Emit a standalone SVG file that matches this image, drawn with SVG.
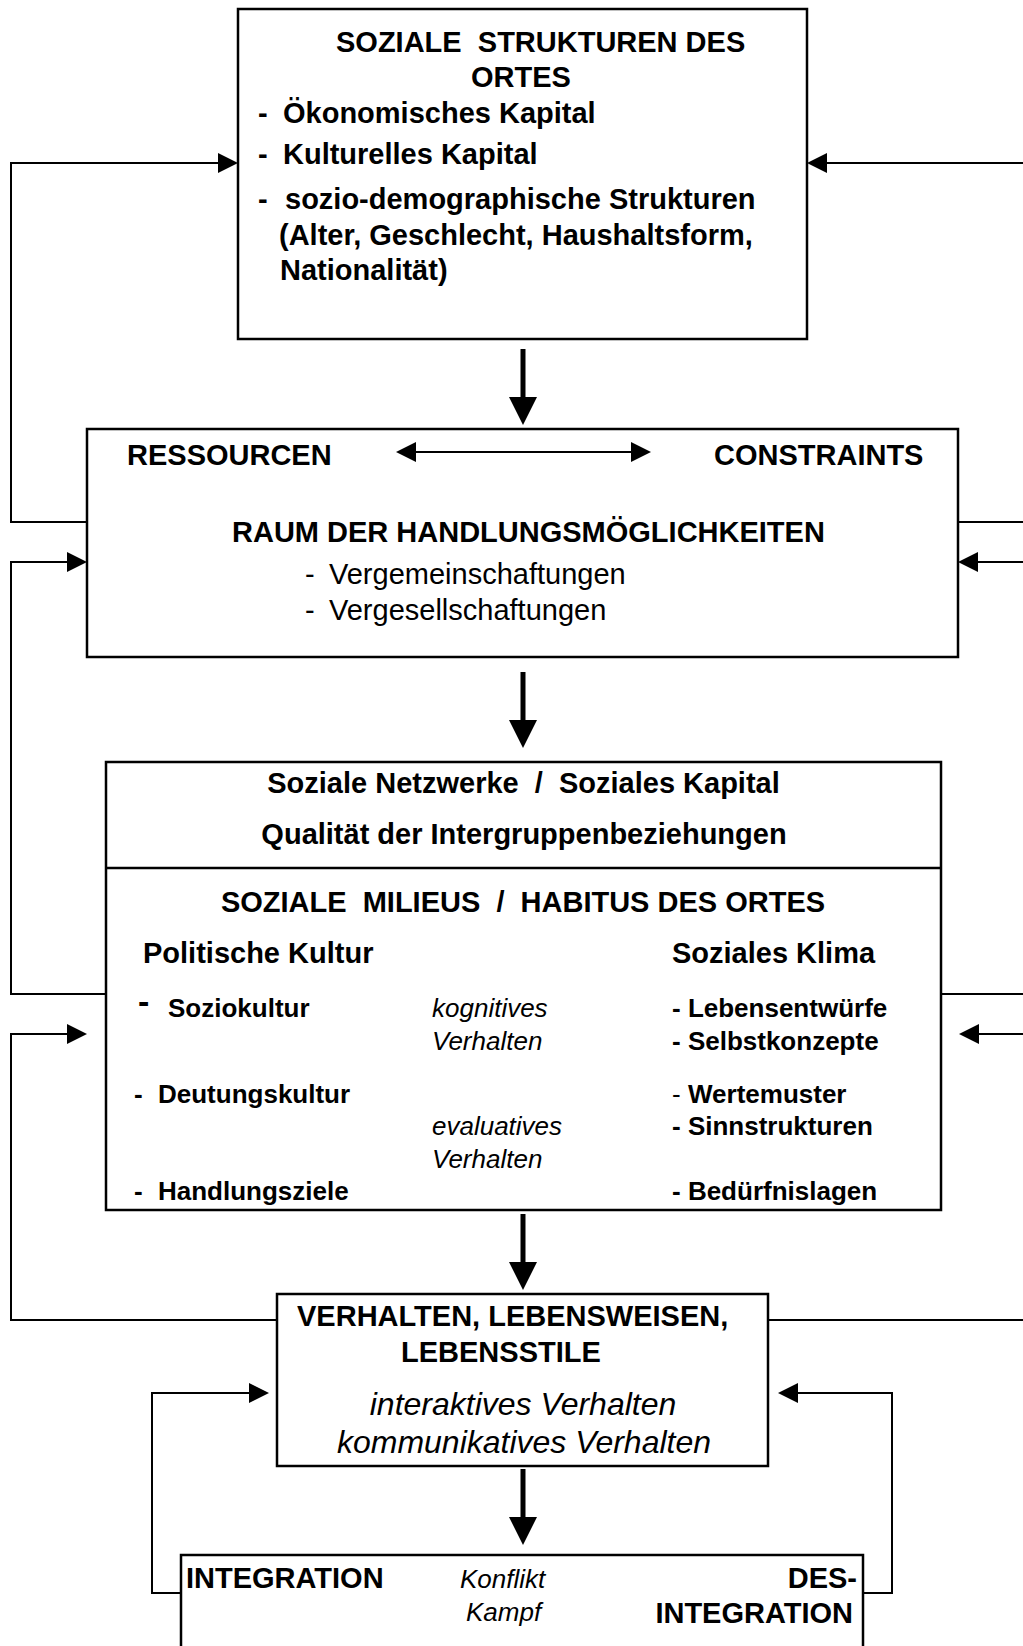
<svg xmlns="http://www.w3.org/2000/svg" width="1023" height="1646" viewBox="0 0 1023 1646">
<style>
.t{font-family:"Liberation Sans",Arial,Helvetica,sans-serif;fill:#000;white-space:pre}
.b{font-weight:bold;font-size:29px}
.r{font-weight:normal;font-size:29px}
.s{font-weight:bold;font-size:26px}
.sr{font-weight:normal;font-size:26px}
.i{font-style:italic;font-weight:normal;font-size:26px}
.il{font-style:italic;font-weight:normal;font-size:32px}
.m{text-anchor:middle}
.e{text-anchor:end}
.box{fill:#fff;stroke:#000;stroke-width:2.5}
.ln{fill:none;stroke:#000;stroke-width:2}
.stem{fill:none;stroke:#000;stroke-width:5}
</style>
<defs>
<marker id="sa" viewBox="0 0 20 20" refX="0" refY="10" markerWidth="20" markerHeight="20" markerUnits="userSpaceOnUse" orient="auto-start-reverse">
<path d="M0,0 L20,10 L0,20 Z" fill="#000"/>
</marker>
<marker id="ba" viewBox="0 0 28 28" refX="0" refY="14" markerWidth="28" markerHeight="28" markerUnits="userSpaceOnUse" orient="auto">
<path d="M0,0 L28,14 L0,28 Z" fill="#000"/>
</marker>
</defs>
<rect width="1023" height="1646" fill="#fff"/>

<g id="n1">
<rect class="box" x="238" y="9" width="569" height="330"/>
<text class="t b" x="336" y="52">SOZIALE  STRUKTUREN DES</text>
<text class="t b m" x="521" y="87">ORTES</text>
<text class="t b" x="258" y="123">-</text>
<text class="t b" x="283" y="123">Ökonomisches Kapital</text>
<text class="t b" x="258" y="164">-</text>
<text class="t b" x="283" y="164">Kulturelles Kapital</text>
<text class="t b" x="258" y="209">-</text>
<text class="t b" x="285" y="209">sozio-demographische Strukturen</text>
<text class="t b" x="279" y="245">(Alter, Geschlecht, Haushaltsform,</text>
<text class="t b" x="280" y="280">Nationalität)</text>
</g>

<g id="n2">
<rect class="box" x="87" y="429" width="871" height="228"/>
<text class="t b" x="127" y="465">RESSOURCEN</text>
<text class="t b" x="714" y="465">CONSTRAINTS</text>
<text class="t b" x="232" y="542">RAUM DER HANDLUNGSMÖGLICHKEITEN</text>
<text class="t r" x="305" y="584">-</text>
<text class="t r" x="329" y="584">Vergemeinschaftungen</text>
<text class="t r" x="305" y="620">-</text>
<text class="t r" x="329" y="620">Vergesellschaftungen</text>
</g>

<g id="n3">
<rect class="box" x="106" y="762" width="835" height="448"/>
<line x1="106" y1="868" x2="941" y2="868" stroke="#000" stroke-width="2.5"/>
<text class="t b m" x="523.5" y="793">Soziale Netzwerke  /  Soziales Kapital</text>
<text class="t b m" x="524" y="844">Qualität der Intergruppenbeziehungen</text>
<text class="t b m" x="523" y="912">SOZIALE  MILIEUS  /  HABITUS DES ORTES</text>
<text class="t b" x="143" y="963">Politische Kultur</text>
<text class="t b" x="672" y="963">Soziales Klima</text>
<text class="t b" x="138" y="1013" style="font-size:34px">-</text>
<text class="t s" x="168" y="1017">Soziokultur</text>
<text class="t i" x="432" y="1017">kognitives</text>
<text class="t i" x="432" y="1050">Verhalten</text>
<text class="t s" x="672" y="1017">- Lebensentwürfe</text>
<text class="t s" x="672" y="1050">- Selbstkonzepte</text>
<text class="t s" x="134" y="1103">-</text>
<text class="t s" x="158" y="1103">Deutungskultur</text>
<text class="t sr" x="672" y="1103">-</text>
<text class="t s" x="688" y="1103">Wertemuster</text>
<text class="t i" x="432" y="1135">evaluatives</text>
<text class="t s" x="672" y="1135">- Sinnstrukturen</text>
<text class="t i" x="432" y="1168">Verhalten</text>
<text class="t s" x="134" y="1200">-</text>
<text class="t s" x="158" y="1200">Handlungsziele</text>
<text class="t s" x="672" y="1200">- Bedürfnislagen</text>
</g>

<g id="n4">
<rect class="box" x="277" y="1294" width="491" height="172"/>
<text class="t b" x="297" y="1326">VERHALTEN, LEBENSWEISEN,</text>
<text class="t b" x="401" y="1362">LEBENSSTILE</text>
<text class="t il m" x="523" y="1415">interaktives Verhalten</text>
<text class="t il m" x="524" y="1453">kommunikatives Verhalten</text>
</g>

<g id="n5">
<rect class="box" x="181" y="1555" width="682" height="200"/>
<text class="t b" x="186" y="1588">INTEGRATION</text>
<text class="t i" x="460" y="1588">Konflikt</text>
<text class="t i" x="466" y="1621">Kampf</text>
<text class="t b e" x="857" y="1588">DES-</text>
<text class="t b e" x="853" y="1623">INTEGRATION</text>
</g>

<g id="connectors">
<path class="ln" d="M87,522 H11 V163 H218" marker-end="url(#sa)"/>
<path class="ln" d="M1030,163 H827" marker-end="url(#sa)"/>
<path class="ln" d="M958,522 H1030"/>
<path class="ln" d="M106,994 H11 V562 H67" marker-end="url(#sa)"/>
<path class="ln" d="M1030,562 H978" marker-end="url(#sa)"/>
<path class="ln" d="M941,994 H1030"/>
<path class="ln" d="M277,1320 H11 V1034 H67" marker-end="url(#sa)"/>
<path class="ln" d="M1030,1034 H979" marker-end="url(#sa)"/>
<path class="ln" d="M768,1320 H1030"/>
<path class="ln" d="M181,1593 H152 V1393 H249" marker-end="url(#sa)"/>
<path class="ln" d="M863,1593 H892 V1393 H798" marker-end="url(#sa)"/>
<path class="ln" d="M416,452 H631" marker-start="url(#sa)" marker-end="url(#sa)"/>
<path class="stem" d="M523,349 V397" marker-end="url(#ba)"/>
<path class="stem" d="M523,672 V720" marker-end="url(#ba)"/>
<path class="stem" d="M523,1214 V1262" marker-end="url(#ba)"/>
<path class="stem" d="M523,1469 V1517" marker-end="url(#ba)"/>
</g>
</svg>
